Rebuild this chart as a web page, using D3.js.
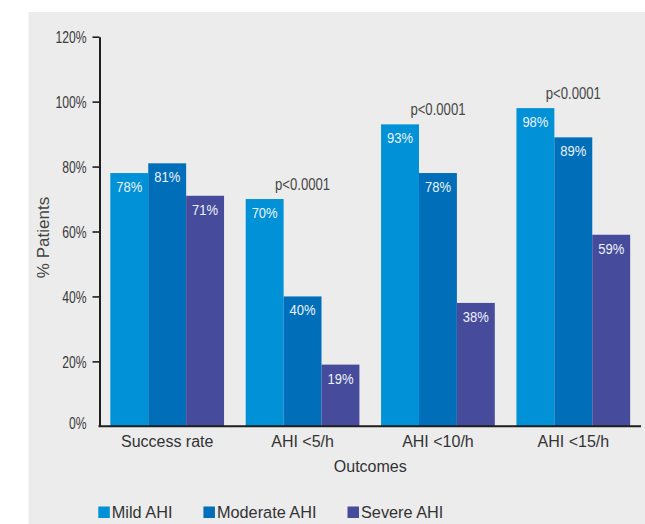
<!DOCTYPE html>
<html>
<head>
<meta charset="utf-8">
<script src="https://cdn.jsdelivr.net/npm/d3@7"></script>
<style>
  html, body { margin: 0; padding: 0; background: #ffffff; }
  svg { display: block; }
  text { font-family: "Liberation Sans", Arial, Helvetica, sans-serif; }
</style>
</head>
<body>
<svg id="chart" width="645" height="524"></svg>
<script>
// Outcome groups along the x axis
const outcomes = ["Success rate", "AHI <5/h", "AHI <10/h", "AHI <15/h"];
// Severity series
const severities = ["Mild AHI", "Moderate AHI", "Severe AHI"];
// Percent of patients per outcome, one array per severity
const mildValues = [78, 70, 93, 98];
const moderateValues = [81, 40, 78, 89];
const severeValues = [71, 19, 38, 59];
// Significance note per outcome (empty = none)
const pNotes = ["", "p<0.0001", "p<0.0001", "p<0.0001"];
// Y axis ticks
const yTicks = [0, 20, 40, 60, 80, 100, 120];

const seriesValues = [mildValues, moderateValues, severeValues];
const colors = ["#0091d6", "#006eb8", "#474b9b"];

const svg = d3.select("#chart");

// grey panel
svg.append("rect")
  .attr("x", 28.5).attr("y", 12)
  .attr("width", 645 - 28.5).attr("height", 524 - 12)
  .attr("fill", "#ececec");

const plot = { left: 99.5, right: 641, top: 36.7, bottom: 426.3 };

const x = d3.scaleBand()
  .domain(outcomes)
  .range([plot.left, plot.right])
  .paddingInner(0.16)
  .paddingOuter(0.08);

const xs = d3.scaleBand()
  .domain(severities)
  .range([0, x.bandwidth()])
  .padding(0);

const y = d3.scaleLinear()
  .domain([0, 120])
  .range([plot.bottom, plot.top]);

const color = d3.scaleOrdinal().domain(severities).range(colors);

// rows: one per outcome
const rows = outcomes.map((o, i) => ({
  outcome: o,
  note: pNotes[i],
  values: severities.map((s, k) => ({ severity: s, value: seriesValues[k][i] }))
}));

// bars
const groups = svg.append("g").selectAll("g")
  .data(rows).join("g")
  .attr("transform", d => `translate(${x(d.outcome)},0)`);

groups.selectAll("rect")
  .data(d => d.values).join("rect")
  .attr("x", d => xs(d.severity))
  .attr("y", d => y(d.value))
  .attr("width", xs.bandwidth())
  .attr("height", d => y(0) - y(d.value))
  .attr("fill", d => color(d.severity));

// value labels inside the bar tops
groups.selectAll("text.val")
  .data(d => d.values).join("text")
  .attr("class", "val")
  .attr("transform", d => `translate(${xs(d.severity) + xs.bandwidth() / 2},${y(d.value) + 19}) scale(0.84,1)`)
  .attr("text-anchor", "middle")
  .attr("font-size", 15.5)
  .attr("fill", "#eef3fa")
  .text(d => d.value + "%");

// significance notes above each group
groups.filter(d => d.note)
  .append("text")
  .attr("transform", d => `translate(${x.bandwidth() / 2},${y(d3.max(d.values, v => v.value)) - 9}) scale(0.82,1)`)
  .attr("text-anchor", "middle")
  .attr("font-size", 16)
  .attr("fill", "#474747")
  .text(d => d.note);

// y axis
const yAxis = d3.axisLeft(y)
  .tickValues(yTicks)
  .tickSize(7)
  .tickSizeOuter(0)
  .tickFormat(d => d + "%");

const gy = svg.append("g")
  .attr("transform", `translate(${plot.left},0)`)
  .call(yAxis);
gy.select(".domain").attr("stroke", "#1e1e1e").attr("stroke-width", 2);
gy.selectAll(".tick line").attr("stroke", "#1e1e1e").attr("stroke-width", 1.6);
gy.selectAll(".tick").filter(d => d === 0).select("line").remove();
gy.selectAll(".tick text")
  .attr("x", null).attr("dy", null)
  .attr("transform", d => `translate(-13,${d === 0 ? 1.8 : 5.8}) scale(0.76,1)`)
  .attr("font-size", 16)
  .attr("font-family", "'Liberation Sans', Arial, sans-serif")
  .attr("fill", "#3a3a3a");

// x axis baseline and category labels
const xAxis = d3.axisBottom(x).tickSize(0).tickSizeOuter(0);
const gx = svg.append("g")
  .attr("transform", `translate(0,${plot.bottom})`)
  .call(xAxis);
gx.select(".domain").attr("stroke", "#1e1e1e").attr("stroke-width", 2)
  .attr("d", `M${plot.left - 1},0H${plot.right}`);
gx.selectAll(".tick text")
  .attr("y", 21).attr("dy", null)
  .attr("font-size", 16)
  .attr("font-family", "'Liberation Sans', Arial, sans-serif")
  .attr("fill", "#333333");

// axis titles
svg.append("text")
  .attr("x", (plot.left + plot.right) / 2)
  .attr("y", 471.5)
  .attr("text-anchor", "middle")
  .attr("font-size", 16)
  .attr("fill", "#333333")
  .text("Outcomes");

svg.append("text")
  .attr("transform", `translate(48.5,237.5) rotate(-90)`)
  .attr("text-anchor", "middle")
  .attr("font-size", 17)
  .attr("fill", "#444444")
  .text("% Patients");

// legend
const legend = svg.append("g").attr("transform", "translate(98.3,0)");
let lx = 0;
severities.forEach(s => {
  const item = legend.append("g").attr("transform", `translate(${lx},0)`);
  item.append("rect")
    .attr("x", 0).attr("y", 506.5)
    .attr("width", 11.5).attr("height", 11.5)
    .attr("fill", color(s));
  const t = item.append("text")
    .attr("x", 13.5).attr("y", 517.8)
    .attr("font-size", 16.3)
    .attr("fill", "#333333")
    .text(s);
  lx += 13.5 + t.node().getComputedTextLength() + 31;
});
</script>
</body>
</html>
